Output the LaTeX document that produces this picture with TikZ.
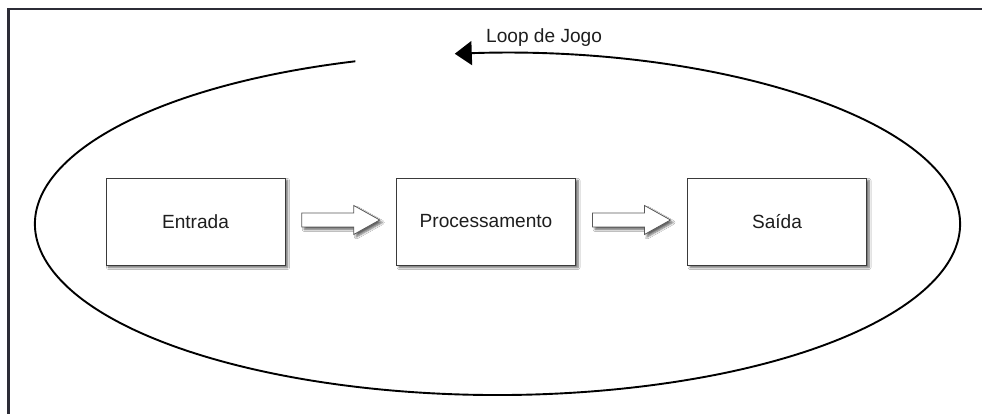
\documentclass[tikz,border=0pt]{standalone}
\usepackage{fontspec}
\setmainfont{Liberation Sans}
\usetikzlibrary{calc,shadows.blur,arrows.meta}
\definecolor{framecol}{HTML}{2C2C36}
\definecolor{boxline}{HTML}{3A3A3A}
\definecolor{textcol}{HTML}{1E1E1E}
\begin{document}
\begin{tikzpicture}[x=1pt,y=1pt,
  softshadow/.style={blur shadow={shadow xshift=2.5pt, shadow yshift=-2.5pt,
      shadow blur radius=2pt, shadow blur steps=6, shadow opacity=60}},
  stage/.style={draw=boxline, line width=0.9pt, fill=white,
      minimum width=179pt, minimum height=87pt, inner sep=0pt,
      font=\fontsize{19.1}{22}\selectfont, text=textcol, softshadow},
  flowshape/.style={draw=boxline!85, line width=0.8pt, fill=white, line join=miter, softshadow},
  loopline/.style={line width=1.9pt, black},
]
\useasboundingbox (0,0) rectangle (982,414);
\clip (0,0) rectangle (982,414);
\fill[white] (0,0) rectangle (982,414);

% outer frame, running off the right and bottom edges
\draw[framecol, line width=2.8pt] (8.5,-20) -- (8.5,405) -- (1000,405);

% game loop ellipse with its arrow
\coordinate (loopc) at (497.5,190);
\path (loopc) ++(107.9:462.5pt and 171pt) coordinate (loopstart);
\draw[loopline, -{Triangle[length=17pt,width=24pt]}]
  (loopstart) arc[start angle=107.9, end angle=455.3, x radius=462.5pt, y radius=171pt];
\node[anchor=base west, inner sep=0pt, font=\fontsize{19.1}{22}\selectfont, text=textcol]
  (looplabel) at (486,371) {Loop de Jogo};

% stages of the loop
\node[stage] (entrada) at (195.5,192.5) {Entrada};
\node[stage] (proc)    at (486,192.5)   {Processamento};
\node[stage] (saida)   at (777,192.5)   {Saída};

% block arrows between stages
\coordinate (a1) at ($(entrada.east)!0.5!(proc.west)+(0,1.5)$);
\coordinate (a2) at ($(proc.east)!0.5!(saida.west)+(0,1.5)$);
\foreach \c in {a1,a2}{
  \draw[flowshape, shift={(\c)}]
    (-39,7) -- (13,7) -- (13,14.5) -- (39,0) -- (13,-14.5) -- (13,-7) -- (-39,-7) -- cycle;
}
\end{tikzpicture}
\end{document}
